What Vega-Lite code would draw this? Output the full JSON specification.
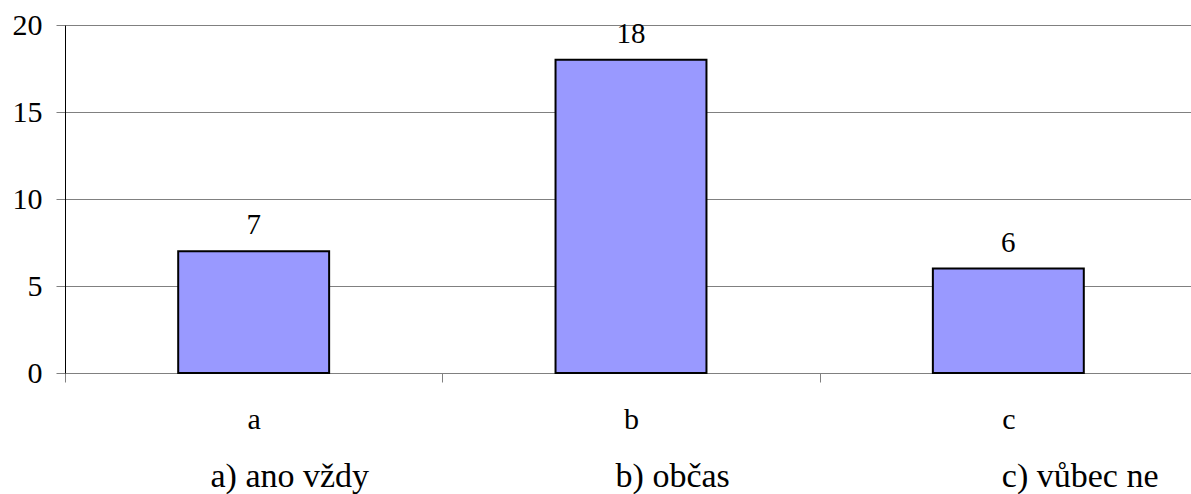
{
  "$schema": "https://vega.github.io/schema/vega-lite/v6.json",
  "width": 1132,
  "height": 348,
  "autosize": {"type": "none"},
  "padding": {"left": 65, "top": 25, "right": -6, "bottom": 121},
  "background": "white",
  "config": {
    "view": {"stroke": null},
    "font": "Times New Roman, Liberation Serif, serif"
  },
  "data": {
    "values": [
      {"cat": "a", "value": 7},
      {"cat": "b", "value": 18},
      {"cat": "c", "value": 6}
    ]
  },
  "encoding": {
    "x": {
      "field": "cat",
      "type": "nominal",
      "sort": null,
      "scale": {"paddingInner": 0, "paddingOuter": 0},
      "axis": {
        "labelAngle": 0,
        "labelFont": "Times New Roman, Liberation Serif, serif",
        "labelFontSize": 30,
        "labelColor": "black",
        "labelPadding": 22,
        "tickSize": 9,
        "tickBand": "extent",
        "tickColor": "#808080",
        "domainColor": "#808080",
        "title": "a) ano vždy\u00a0\u00a0\u00a0\u00a0\u00a0\u00a0\u00a0\u00a0\u00a0\u00a0\u00a0\u00a0\u00a0\u00a0\u00a0\u00a0\u00a0\u00a0\u00a0\u00a0\u00a0\u00a0\u00a0\u00a0\u00a0\u00a0\u00a0\u00a0 b) občas\u00a0\u00a0\u00a0\u00a0\u00a0\u00a0\u00a0\u00a0\u00a0\u00a0\u00a0\u00a0\u00a0\u00a0\u00a0\u00a0\u00a0\u00a0\u00a0\u00a0\u00a0\u00a0\u00a0\u00a0\u00a0\u00a0\u00a0\u00a0\u00a0\u00a0\u00a0 c) vůbec ne",
        "titleFont": "Times New Roman, Liberation Serif, serif",
        "titleFontSize": 34,
        "titleFontWeight": "normal",
        "titleColor": "black",
        "titleAlign": "left",
        "titleAnchor": "start",
        "titleBaseline": "alphabetic",
        "titleX": 145,
        "titleY": 113
      }
    },
    "y": {
      "field": "value",
      "type": "quantitative",
      "scale": {"domain": [0, 20], "nice": false},
      "axis": {
        "values": [0, 5, 10, 15, 20],
        "title": null,
        "labelFont": "Times New Roman, Liberation Serif, serif",
        "labelFontSize": 30,
        "labelColor": "black",
        "labelPadding": 14,
        "tickSize": 9,
        "tickColor": "#808080",
        "domainColor": "black",
        "gridColor": "#808080",
        "gridOpacity": 1,
        "grid": true
      }
    }
  },
  "layer": [
    {
      "mark": {"type": "bar", "width": {"band": 0.4}, "fill": "#9999FF", "stroke": "black", "strokeWidth": 2}
    },
    {
      "mark": {"type": "text", "baseline": "alphabetic", "dy": -17, "fontSize": 29, "font": "Times New Roman, Liberation Serif, serif", "color": "black"},
      "encoding": {"text": {"field": "value", "type": "quantitative"}}
    }
  ]
}
